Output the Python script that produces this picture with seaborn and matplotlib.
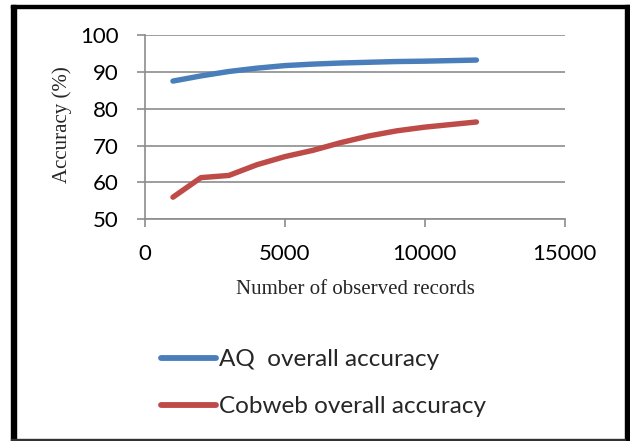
import matplotlib
matplotlib.use("Agg")
import matplotlib.pyplot as plt
import seaborn as sns
import pandas as pd
from matplotlib.patches import Rectangle

# ---- data ----
records = [1000, 2000, 3000, 4000, 5000, 6000, 7000, 8000, 9000, 10000, 11850]
aq_accuracy = [87.5, 88.9, 90.1, 91.0, 91.7, 92.1, 92.4, 92.6, 92.8, 92.9, 93.2]
cobweb_accuracy = [56.0, 61.3, 61.9, 64.8, 67.0, 68.7, 70.8, 72.6, 74.0, 75.0, 76.4]
series_names = ["AQ  overall accuracy", "Cobweb overall accuracy"]
x_ticks = [0, 5000, 10000, 15000]
y_ticks = [50, 60, 70, 80, 90, 100]

df = pd.DataFrame({
    "records": records * 2,
    "accuracy": aq_accuracy + cobweb_accuracy,
    "series": [series_names[0]] * len(records) + [series_names[1]] * len(records),
})

sns.set_theme(style="white")
plt.rcParams["font.family"] = ["Lato", "DejaVu Sans"]

W, H = 630, 441
fig = plt.figure(figsize=(W / 100, H / 100), dpi=100)
L, R, T, B = 145, 564.5, 35, 219.3
ax = fig.add_axes([L / W, 1 - B / H, (R - L) / W, (B - T) / H])

palette = {series_names[0]: "#4A7EBB", series_names[1]: "#BE4B48"}
sns.lineplot(data=df, x="records", y="accuracy", hue="series", palette=palette,
             linewidth=3.9, ax=ax, legend=True, solid_capstyle="round",
             solid_joinstyle="round")

grid_c = "#8C8C8C"
ax.set_xlim(0, 15000)
ax.set_ylim(50, 100)
ax.set_xticks(x_ticks)
ax.set_yticks(y_ticks)
ax.set_xticklabels([str(t) for t in x_ticks])
ax.set_yticklabels([str(t) for t in y_ticks])
ax.yaxis.grid(True, color=grid_c, linewidth=1.2)
ax.xaxis.grid(False)
ax.set_axisbelow(True)
for s in ["top", "right"]:
    ax.spines[s].set_visible(False)
for s in ["left", "bottom"]:
    ax.spines[s].set_color(grid_c)
    ax.spines[s].set_linewidth(1.2)
ax.tick_params(axis="y", direction="out", length=6, width=1.2, color=grid_c,
               pad=13, labelsize=16, labelcolor="black", left=True)
ax.tick_params(axis="x", direction="out", length=6, width=1.2, color=grid_c,
               pad=12, labelsize=16, labelcolor="black", bottom=True)
ax.set_xlabel("")
ax.set_ylabel("")

fig.text(355 / W, 1 - 290 / H, "Number of observed records", ha="center", va="center",
         fontsize=15, family=["Liberation Serif", "DejaVu Serif"])
fig.text(62 / W, 1 - 125 / H, "Accuracy (%)", ha="center", va="center", rotation=90,
         fontsize=15, family=["Liberation Serif", "DejaVu Serif"])

handles, labels = ax.get_legend_handles_labels()
ax.get_legend().remove()
leg = fig.legend(handles, labels, loc="upper left",
                 bbox_to_anchor=(161 / W, 1 - 349 / H), frameon=False,
                 fontsize=17.5, handlelength=2.26, handletextpad=0.12,
                 labelspacing=1.08, borderpad=0, borderaxespad=0)
for h in leg.legend_handles:
    h.set_linewidth(4.2)

# frame around the figure
fig.patches.append(Rectangle((11 / W, 0), 5 / W, 1 - 5 / H, transform=fig.transFigure,
                             color="black", zorder=10))
fig.patches.append(Rectangle((11 / W, 1 - 8 / H), 1 - 11 / W, 3 / H, transform=fig.transFigure,
                             color="black", zorder=10))
fig.patches.append(Rectangle((625 / W, 0), 5 / W, 1 - 5 / H, transform=fig.transFigure,
                             color="black", zorder=10))
fig.patches.append(Rectangle((11 / W, 1 - 440.5 / H), 614 / W, 1.5 / H, transform=fig.transFigure,
                             color="#333333", zorder=10))

fig.savefig("out.png", dpi=100)
